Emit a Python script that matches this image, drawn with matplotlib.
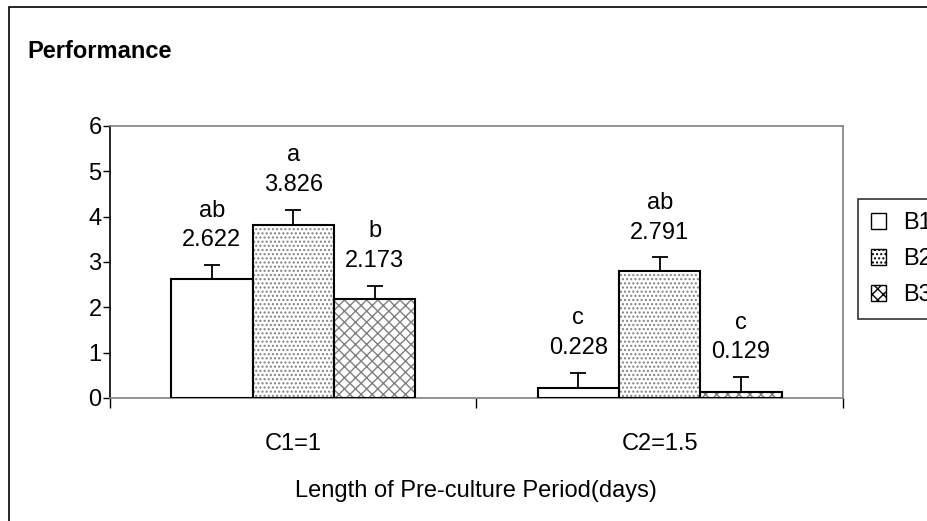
import numpy as np
import matplotlib
matplotlib.use("Agg")
import matplotlib.pyplot as plt
from matplotlib.patches import Rectangle, Patch

plt.rcParams['font.family'] = ['Liberation Sans', 'DejaVu Sans']

# ==================== DADOS ====================
grupos = ["C1=1", "C2=1.5"]
series = ["B1", "B2", "B3"]
valores = {
    "B1": [2.622, 0.228],
    "B2": [3.826, 2.791],
    "B3": [2.173, 0.129],
}
erros = {
    "B1": [0.31, 0.33],
    "B2": [0.33, 0.31],
    "B3": [0.30, 0.33],
}
letras = {
    "B1": ["ab", "c"],
    "B2": ["a", "ab"],
    "B3": ["b", "c"],
}
hachuras = {"B1": None, "B2": "....", "B3": "xxx"}
y_ticks = [0, 1, 2, 3, 4, 5, 6]

W, H = 928, 521
fig = plt.figure(figsize=(W / 100, H / 100), dpi=100)

# moldura externa do grafico (sai da imagem a direita e embaixo)
fig.patches.append(Rectangle((9 / W, -0.1), 1.2, 1 - 7 / H + 0.1,
                             transform=fig.transFigure, fill=False,
                             edgecolor="black", linewidth=1.2))

ax = fig.add_axes([110 / W, 1 - 398 / H, (843 - 110) / W, (398 - 126) / H])
ax.patch.set_alpha(0)

x = np.arange(len(grupos))
largura = 0.222
fs = 17

for i, s in enumerate(series):
    pos = x + (i - 1) * largura
    vals = valores[s]
    errs = erros[s]
    if hachuras[s]:
        ax.bar(pos, vals, largura, color="white", edgecolor="#808080",
               hatch=hachuras[s], linewidth=0, zorder=2)
    else:
        ax.bar(pos, vals, largura, color="white", linewidth=0, zorder=2)
    ax.bar(pos, vals, largura, fill=False, edgecolor="black", linewidth=1.5, zorder=3)
    ax.errorbar(pos, vals, yerr=[np.zeros(len(vals)), errs], fmt="none",
                ecolor="black", elinewidth=1.3, capsize=5.5, capthick=1.3, zorder=4)
    for p, v, e, l in zip(pos, vals, errs, letras[s]):
        ax.annotate(f"{l}\n{v:.3f}", (p, v + e), xytext=(0, 10),
                    textcoords="offset points", ha="center", va="bottom",
                    fontsize=fs, linespacing=1.45)

ax.set_xlim(-0.5, 1.5)
ax.set_ylim(0, 6)
ax.set_yticks(y_ticks)
ax.set_yticklabels([str(t) for t in y_ticks], fontsize=fs)
ax.tick_params(axis="y", direction="out", length=5, width=1, pad=1, color="black")

ax.set_xticks([-0.5, 0.5, 1.5])
ax.set_xticklabels([])
ax.tick_params(axis="x", direction="out", length=7, width=1, color="black")
for xi, g in zip(x, grupos):
    ax.annotate(g, (xi, 0), xytext=(0, -35), textcoords="offset pixels",
                ha="center", va="top", fontsize=fs)

for lado in ["top", "right"]:
    ax.spines[lado].set_color("#808080")
ax.spines["left"].set_color("black")
ax.spines["bottom"].set_color("#808080")
for sp in ax.spines.values():
    sp.set_linewidth(1.2)

fig.text(476 / W, 1 - 480 / H, "Length of Pre-culture Period(days)",
         ha="center", va="top", fontsize=fs)
fig.text(27 / W, 1 - 51 / H, "Performance", ha="left", va="center",
         fontsize=fs, fontweight="bold")

handles = [Patch(facecolor="white", edgecolor="black", hatch=hachuras[s],
                 linewidth=1) for s in series]
leg = fig.legend(handles, series, loc="upper left",
                 bbox_to_anchor=(858 / W, 1 - 199 / H),
                 fontsize=fs, frameon=True, fancybox=False, edgecolor="black",
                 handlelength=0.65, handleheight=0.65, handletextpad=0.7,
                 labelspacing=0.6, borderpad=0.55, borderaxespad=0)
leg.get_frame().set_linewidth(1.2)

fig.savefig("out.png", dpi=100)
